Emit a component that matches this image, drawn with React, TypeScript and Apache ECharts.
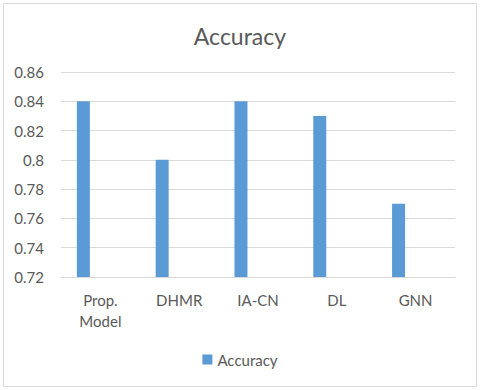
import React, { useEffect, useRef } from "react";
import * as echarts from "echarts";

const categories = ["Prop.\nModel", "DHMR", "IA-CN", "DL", "GNN"];
const accuracy = [0.84, 0.8, 0.84, 0.83, 0.77];
const emptySeries = [null, null, null, null, null];
const yMin = 0.72;
const yMax = 0.86;
const yStep = 0.02;

const FONT = "Lato";
const TEXT = "#595959";
const GRIDC = "#D9D9D9";

export default function App() {
  const ref = useRef<HTMLDivElement>(null);
  useEffect(() => {
    if (!ref.current) return;
    const chart = echarts.init(ref.current, null, { renderer: "svg" });
    chart.setOption({
      animation: false,
      backgroundColor: "#ffffff",
      textStyle: { fontFamily: FONT },
      title: {
        text: "Accuracy",
        left: "center",
        top: 19,
        textStyle: { fontFamily: FONT, fontSize: 23, fontWeight: "normal", color: TEXT },
      },
      graphic: [
        {
          type: "rect",
          shape: { x: 3.5, y: 3.5, width: 473, height: 383 },
          style: { fill: "none", stroke: GRIDC, lineWidth: 1 },
          silent: true,
          z: -1,
        },
      ],
      legend: {
        data: ["Accuracy"],
        left: "center",
        top: 347,
        icon: "rect",
        itemWidth: 10,
        itemHeight: 10,
        textStyle: { fontFamily: FONT, fontSize: 15, color: TEXT },
      },
      grid: { left: 61, right: 25, top: 72, bottom: 113, containLabel: false },
      xAxis: {
        type: "category",
        data: categories,
        axisLine: { lineStyle: { color: GRIDC, width: 1 } },
        axisTick: { show: false },
        axisLabel: {
          fontFamily: FONT,
          fontSize: 15,
          lineHeight: 21,
          color: TEXT,
          margin: 12,
          interval: 0,
        },
      },
      yAxis: {
        type: "value",
        min: yMin,
        max: yMax,
        interval: yStep,
        axisLine: { show: false },
        axisTick: { show: false },
        splitLine: { lineStyle: { color: GRIDC, width: 1 } },
        axisLabel: {
          fontFamily: FONT,
          fontSize: 15,
          color: TEXT,
          margin: 17,
          formatter: (v: number) => String(Number(v.toFixed(2))),
        },
      },
      series: [
        {
          name: "Accuracy",
          type: "bar",
          data: accuracy,
          barWidth: 13,
          barGap: "162%",
          itemStyle: { color: "#5B9BD5" },
        },
        {
          name: "_spacer",
          type: "bar",
          data: emptySeries,
          barWidth: 13,
          barGap: "162%",
          itemStyle: { color: "transparent" },
        },
      ],
    });
    return () => chart.dispose();
  }, []);
  return (
    <div
      ref={ref}
      style={{ position: "fixed", left: 0, top: 0, width: 480, height: 390 }}
    />
  );
}
